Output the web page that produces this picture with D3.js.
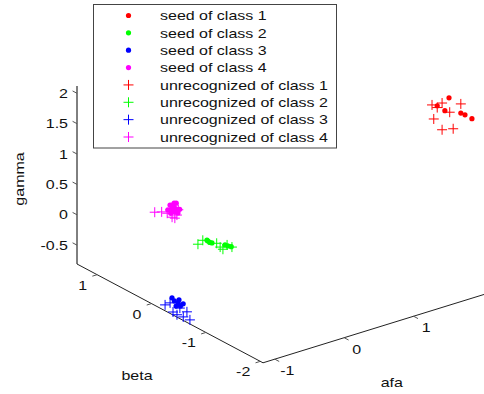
<!DOCTYPE html>
<html>
<head>
<meta charset="utf-8">
<script src="https://cdn.jsdelivr.net/npm/d3@7"></script>
<style>
  html, body { margin: 0; padding: 0; background: #fff; }
  svg { display: block; }
  text { font-family: "Liberation Sans", Arial, sans-serif; fill: #111; }
</style>
</head>
<body>
<svg id="chart" width="484" height="394"></svg>
<script>
// ---- data: [afa, beta, gamma] ----
const classNames = ["class 1", "class 2", "class 3", "class 4"];
const classColors = ["#ff0000", "#00ff00", "#0000ff", "#ff00ff"];

const seed1 = [[2.13,-1.26,2.01],[2.07,-1.26,1.82],[2.30,-1.26,1.70],[2.36,-1.26,1.65],[2.46,-1.26,1.55],[1.96,-1.26,1.94]];
const seed2 = [[-0.105,0.32,-0.31],[-0.048,0.32,-0.36],[-0.12,0.32,-0.29],[0.14,0.32,-0.46],[0.18,0.32,-0.49],[0.23,0.32,-0.52],[-0.08,0.32,-0.34]];
const seed3 = [[-0.99,-0.19,-0.74],[-0.99,-0.26,-0.74],[-1.02,-0.34,-0.74],[-1.02,-0.26,-0.78],[-1.0,-0.16,-0.70],[-0.97,-0.25,-0.70],[-0.98,-0.34,-0.72]];
const seed4 = [[-0.47,0.515,0.32],[-0.44,0.515,0.28],[-0.46,0.515,0.23],[-0.43,0.515,0.19],[-0.49,0.515,0.19],[-0.41,0.515,0.23],[-0.47,0.515,0.27],[-0.44,0.515,0.34],[-0.45,0.515,0.25],
               [-0.53,0.515,0.26],[-0.36,0.515,0.21],[-0.385,0.515,0.16],[-0.50,0.515,0.33],[-0.41,0.515,0.33]];

const unrec1 = [[1.885,-1.26,1.98],[2.03,-1.26,1.96],[2.30,-1.26,1.85],[2.14,-1.26,1.77],[1.91,-1.26,1.74],[2.03,-1.26,1.52],[2.19,-1.26,1.48],[1.96,-1.26,1.91]];
const unrec2 = [[-0.25,0.32,-0.31],[-0.18,0.32,-0.27],[0.02,0.32,-0.39],[0.07,0.32,-0.47],[0.11,0.32,-0.52],[0.24,0.32,-0.53],[0.17,0.32,-0.47]];
const unrec3 = [[-1.10,-0.16,-0.78],[-1.14,-0.43,-0.80],[-1.02,-0.33,-0.78],[-1.02,-0.46,-0.78],[-1.11,-0.63,-0.80],[-1.12,-0.52,-0.80],[-1.15,-0.37,-0.78],[-1.02,-0.15,-0.78]];
const unrec4 = [[-0.72,0.515,0.29],[-0.62,0.515,0.26],[-0.54,0.515,0.21],[-0.47,0.515,0.12],[-0.40,0.515,0.13],[-0.38,0.515,0.21],[-0.50,0.515,0.25],[-0.43,0.515,0.09]];

const seeds = [seed1, seed2, seed3, seed4];
const unrecs = [unrec1, unrec2, unrec3, unrec4];

const afaTicks = [-1, 0, 1];
const betaTicks = [1, 0, -1, -2];
const gammaTicks = [-0.5, 0, 0.5, 1, 1.5, 2];

// ---- axis limits and oblique 3-D projection ----
const afaLim = [-1.17, 2.6];
const betaLim = [1.37, -2.05];   // near end first
const gammaLim = [-0.81, 2.12];

const origin = [77, 264];              // (afa min, beta max, gamma min)
const afaVec = [261.6, -80.9];         // screen direction of the afa axis
const betaVec = [186, 98.8];           // screen direction of the beta axis
const gammaVec = [0, -178];            // screen direction of the gamma axis

const sA = d3.scaleLinear().domain(afaLim).range([0, 1]);
const sB = d3.scaleLinear().domain(betaLim).range([0, 1]);
const sG = d3.scaleLinear().domain(gammaLim).range([0, 1]);

function project(a, b, g) {
  const ta = sA(a), tb = sB(b), tg = sG(g);
  return [
    origin[0] + ta * afaVec[0] + tb * betaVec[0] + tg * gammaVec[0],
    origin[1] + ta * afaVec[1] + tb * betaVec[1] + tg * gammaVec[1]
  ];
}
function unit(v) { const l = Math.hypot(v[0], v[1]); return [v[0] / l, v[1] / l]; }

const svg = d3.select("#chart");
const FONT = 13, SX = 1.23;

function label(g, x, y, txt, anchor) {
  return g.append("text")
    .attr("transform", `translate(${x},${y}) scale(${SX},1)`)
    .attr("text-anchor", anchor)
    .style("font-size", FONT + "px")
    .text(txt);
}

const axes = svg.append("g");
const line = (p, q, color) => axes.append("line")
  .attr("x1", p[0]).attr("y1", p[1]).attr("x2", q[0]).attr("y2", q[1])
  .attr("stroke", color).attr("stroke-width", 1);

// axis lines
line(project(afaLim[0], betaLim[0], gammaLim[0]), project(afaLim[0], betaLim[0], gammaLim[1]), "#000");
line(project(afaLim[0], betaLim[0], gammaLim[0]), project(afaLim[0], betaLim[1], gammaLim[0]), "#222");
line(project(afaLim[0], betaLim[1], gammaLim[0]), project(afaLim[1], betaLim[1], gammaLim[0]), "#222");

const TL = 5;
// gamma ticks: point along +beta (up-left)
const gDir = unit([-betaVec[0], -betaVec[1]]);
gammaTicks.forEach(v => {
  const p = project(afaLim[0], betaLim[0], v);
  line(p, [p[0] + gDir[0] * TL, p[1] + gDir[1] * TL], "#555");
  label(axes, p[0] - 9, p[1] + 4.5, String(v), "end");
});
// beta ticks: point away from the box along -afa
const bDir = unit([-afaVec[0], -afaVec[1]]);
betaTicks.forEach(v => {
  const p = project(afaLim[0], v, gammaLim[0]);
  line(p, [p[0] + bDir[0] * TL, p[1] + bDir[1] * TL], "#555");
  label(axes, p[0] - 10, p[1] + 15, String(v), "end");
});
// afa ticks: point away from the box along -beta
const aDir = unit(betaVec);
afaTicks.forEach(v => {
  const p = project(v, betaLim[1], gammaLim[0]);
  line(p, [p[0] + aDir[0] * TL, p[1] + aDir[1] * TL], "#555");
  label(axes, p[0] + 12.5, p[1] + 16, String(v), "middle");
});

// axis titles
const bMid = project(afaLim[0], (betaLim[0] + betaLim[1]) / 2, gammaLim[0]);
label(axes, bMid[0] - 33, bMid[1] + 67, "beta", "middle");
const aMid = project(0.715, betaLim[1], gammaLim[0]);
label(axes, aMid[0] - 2, aMid[1] + 65, "afa", "middle");
axes.append("text")
  .attr("transform", `translate(24,179) rotate(-90) scale(${SX},1)`)
  .attr("text-anchor", "middle")
  .style("font-size", FONT + "px")
  .text("gamma");

// ---- markers ----
const CR = 5;
function crossPath(x, y) {
  return `M${x - CR},${y}H${x + CR}M${x},${y - CR}V${y + CR}`;
}
const marks = svg.append("g");
seeds.forEach((pts, i) => {
  marks.append("g").selectAll("circle").data(pts).join("circle")
    .attr("cx", d => project(...d)[0])
    .attr("cy", d => project(...d)[1])
    .attr("r", 2.6)
    .attr("fill", classColors[i]);
});
unrecs.forEach((pts, i) => {
  marks.append("g").selectAll("path").data(pts).join("path")
    .attr("d", d => { const p = project(...d); return crossPath(p[0], p[1]); })
    .attr("stroke", classColors[i]).attr("stroke-width", 1).attr("fill", "none");
});

// ---- legend ----
const legendItems = [
  ...classNames.map((c, i) => ({ label: "seed of " + c, color: classColors[i], kind: "dot" })),
  ...classNames.map((c, i) => ({ label: "unrecognized of " + c, color: classColors[i], kind: "cross" }))
];
const lg = svg.append("g");
lg.append("rect").attr("x", 93.5).attr("y", 4.5).attr("width", 243).attr("height", 143.5)
  .attr("fill", "#fff").attr("stroke", "#444").attr("stroke-width", 1);
const rowY = d3.scaleLinear().domain([0, 7]).range([15.5, 137]);
legendItems.forEach((it, i) => {
  const y = rowY(i);
  if (it.kind === "dot") {
    lg.append("circle").attr("cx", 128.5).attr("cy", y).attr("r", 2.6).attr("fill", it.color);
  } else {
    lg.append("path").attr("d", crossPath(128.5, y)).attr("stroke", it.color).attr("stroke-width", 1);
  }
  label(lg, 160, y + 4.7, it.label, "start");
});
</script>
</body>
</html>
